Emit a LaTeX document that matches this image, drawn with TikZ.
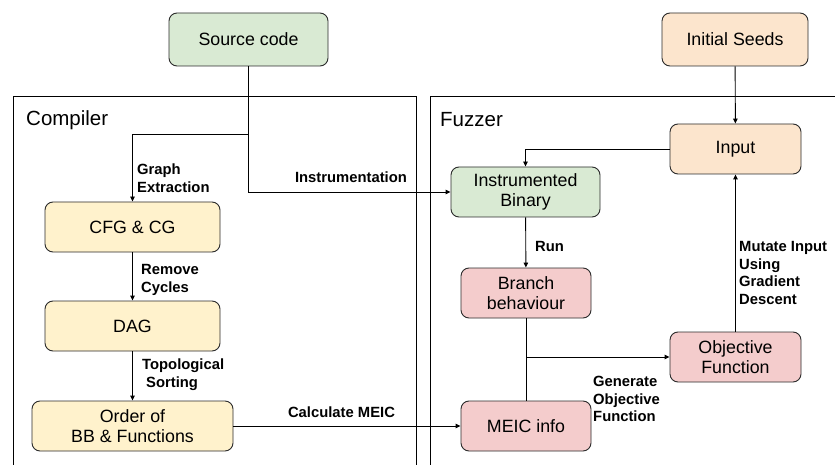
\documentclass[tikz,border=0pt]{standalone}
\usepackage{fontspec}
\setmainfont{Liberation Sans}
\usetikzlibrary{arrows.meta}

\definecolor{gdgreen}{HTML}{D9EAD3}
\definecolor{gdorange}{HTML}{FCE5CD}
\definecolor{gdyellow}{HTML}{FFF2CC}
\definecolor{gdred}{HTML}{F4CCCC}
\definecolor{gdline}{HTML}{2B2B2B}

\tikzstyle{stage}=[draw=gdline, line width=0.9pt, rounded corners=8pt, align=center,
  minimum height=50pt, inner sep=0, font=\fontsize{17.8}{20.5}\selectfont]
\tikzstyle{container}=[draw=black, line width=0.9pt]
\tikzstyle{title}=[anchor=west, inner sep=0, font=\fontsize{20.5}{24}\selectfont]
\tikzstyle{edgelabel}=[inner sep=0, align=left, font=\bfseries\fontsize{14.8}{17.8}\selectfont]
\tikzstyle{flow}=[line width=0.9pt, -{Triangle[length=5pt,width=4.5pt]}]
\tikzstyle{wire}=[line width=0.9pt]

\begin{document}
\begin{tikzpicture}[x=1pt, y=-1pt]

\useasboundingbox [fill=white] (0, 0) rectangle (835, 465);

% the two regions
\draw [container] (13, 475) -- (13, 96) -- (416, 96) -- (416, 475);
\draw [container] (430, 475) -- (430, 96) -- (845, 96);
\node [title] (compiler) at (26, 120) {Compiler};
\node [title] (fuzzer) at (440, 120) {Fuzzer};

% compiler side
\node [stage, fill=gdgreen, minimum width=159pt, minimum height=53pt] (src) at (248.5, 39.5) {Source code};
\node [stage, fill=gdyellow, minimum width=175pt] (cfg) at (132.5, 227) {CFG \& CG};
\node [stage, fill=gdyellow, minimum width=175pt] (dag) at (132.5, 326) {DAG};
\node [stage, fill=gdyellow, minimum width=201pt] (order) at (132.5, 426) {Order of\\BB \& Functions};

% fuzzer side
\node [stage, fill=gdorange, minimum width=146pt, minimum height=53pt] (seeds) at (735, 39.5) {Initial Seeds};
\node [stage, fill=gdorange, minimum width=131pt] (input) at (735.5, 149) {Input};
\node [stage, fill=gdgreen, minimum width=149pt] (bin) at (525.5, 192) {Instrumented\\Binary};
\node [stage, fill=gdred, minimum width=130pt] (branch) at (526, 293) {Branch\\behaviour};
\node [stage, fill=gdred, minimum width=130pt] (meic) at (526, 426) {MEIC info};
\node [stage, fill=gdred, minimum width=131pt] (obj) at (735.5, 357) {Objective\\Function};

\coordinate (split) at (src.south |- 0, 134);
\coordinate (gen) at (branch.south |- obj.west);

% connectors
\draw [wire] (src.south) to (split);
\draw [flow] (split) to (split -| cfg.north) to (cfg.north);
\draw [flow] (split) to (split |- bin.west) to (bin.west);
\draw [flow] (cfg) to (dag);
\draw [flow] (dag) to (order);
\draw [flow] (order) to (meic);
\draw [flow] (seeds) to (input);
\draw [flow] (input.west) to (input.west -| bin.north) to (bin.north);
\draw [flow] (bin) to (branch);
\draw [wire] (branch) to (meic);
\draw [flow] (gen) to (obj.west);
\draw [flow] (obj) to (input);

% labels
\node [edgelabel, anchor=west] (lgraph) at (137, 178.5) {Graph\\Extraction};
\node [edgelabel] (linstr) at (351, 177) {Instrumentation};
\node [edgelabel, anchor=west] (lremove) at (141, 280) {Remove\\Cycles};
\node [edgelabel, anchor=west] (ltopo) at (142, 375) {Topological\\\hspace{4pt}Sorting};
\node [edgelabel] (lcalc) at (341.5, 412) {Calculate MEIC};
\node [edgelabel, anchor=west] (lrun) at (535, 246) {Run};
\node [edgelabel, anchor=west] (lgen) at (593, 399) {Generate\\Objective\\Function};
\node [edgelabel, anchor=west] (lmut) at (739, 273) {Mutate Input\\Using\\Gradient\\Descent};

\end{tikzpicture}
\end{document}
